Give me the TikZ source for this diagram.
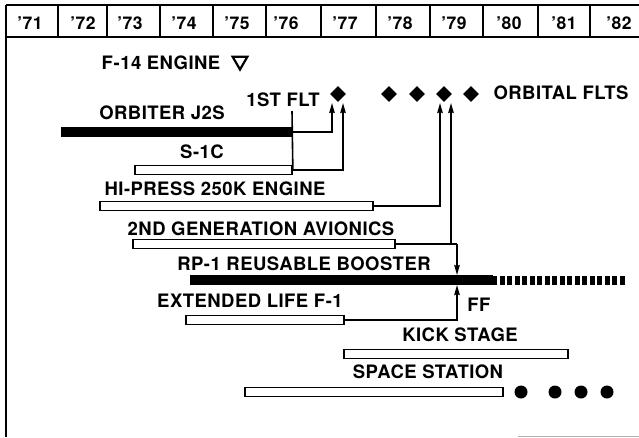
\documentclass[tikz,border=0pt]{standalone}
\usepackage{fontspec}
\setmainfont{TeX Gyre Heros}[LetterSpace=2.5]
\usetikzlibrary{arrows.meta,shapes.geometric}
\begin{document}
\begin{tikzpicture}[x=1pt,y=-1pt,
  lbl/.style={inner sep=0pt, font=\fontsize{18.5}{20}\selectfont\bfseries},
  yr/.style={inner sep=0pt, font=\fontsize{17.5}{18}\selectfont\bfseries},
  frame/.style={line width=1.8pt},
  openbar/.style={draw, fill=white, line width=1.7pt, minimum height=9pt, inner sep=0pt},
  solidbar/.style={draw, fill=black, line width=0.5pt, minimum height=9pt, inner sep=0pt},
  conn/.style={line width=1.6pt},
  arr/.style={line width=1.6pt, -{Stealth[length=10pt,width=5.5pt,inset=1pt]}},
  milestone/.style={diamond, fill=black, minimum width=16pt, minimum height=16pt, inner sep=0pt},
  dot/.style={circle, fill=black, minimum size=13pt, inner sep=0pt}]
\useasboundingbox (0,0) rectangle (639,437);
% header frame
\draw[frame] (6,5) -- (639,5);
\draw[frame] (6,37) -- (639,37);
\draw[frame] (6,5) -- (6,437);
\foreach \x in {58,107,160,213,266,321,376,430,483,538,590}
  \draw[frame] (\x,5) -- (\x,37);
\draw[gray!60, line width=1pt] (518,436) -- (639,436);
% year labels
\node[yr] (y71) at (30,23) {’71};
\node[yr] (y72) at (83,23) {’72};
\node[yr] (y73) at (130,23) {’73};
\node[yr] (y74) at (184,23) {’74};
\node[yr] (y75) at (237,23) {’75};
\node[yr] (y76) at (286,23) {’76};
\node[yr] (y77) at (345,23) {’77};
\node[yr] (y78) at (400,23) {’78};
\node[yr] (y79) at (454,23) {’79};
\node[yr] (y80) at (509,23) {’80};
\node[yr] (y81) at (564,23) {’81};
\node[yr] (y82) at (619,23) {’82};
% top labels and milestones
\node[lbl] (f14) at (161,63) {F-14 ENGINE};
\node[regular polygon, regular polygon sides=3, shape border rotate=180, draw, line width=2.2pt, minimum size=17pt, inner sep=0pt] (tri) at (240,61) {};
\node[lbl] (fltlbl) at (283,100) {1ST FLT};
\node[milestone] (d1) at (338,94) {};
\node[milestone] (d2) at (389,94) {};
\node[milestone] (d3) at (417,94) {};
\node[milestone] (d4) at (444,94) {};
\node[milestone] (d5) at (471,94) {};
\node[lbl] (orbflt) at (561,93) {ORBITAL FLTS};
% bars and labels
\node[lbl] (orblbl) at (162,113) {ORBITER J2S};
\node[solidbar, minimum width=231pt] (orb) at (176.5,132) {};
\node[lbl] (s1clbl) at (202,152) {S-1C};
\node[openbar, minimum width=157pt] (s1c) at (213.5,170) {};
\node[lbl] (hplbl) at (215,189) {HI-PRESS 250K ENGINE};
\node[openbar, minimum width=273pt] (hp) at (236.5,206) {};
\node[lbl] (avlbl) at (261,229) {2ND GENERATION AVIONICS};
\node[openbar, minimum width=262pt] (av) at (264,244) {};
\node[lbl] (rplbl) at (304,264) {RP-1 REUSABLE BOOSTER};
\node[solidbar, minimum width=302pt] (rp) at (341,280) {};
\coordinate (rpend) at (627,280);
\draw[line width=9pt, dash pattern=on 5pt off 2.5pt] (rp.east) -- (rpend);
\node[lbl] (extlbl) at (250,301) {EXTENDED LIFE F-1};
\node[openbar, minimum width=158pt] (ext) at (265,320) {};
\node[lbl] (fflbl) at (479,305) {FF};
\node[lbl] (kslbl) at (460,335) {KICK STAGE};
\node[openbar, minimum width=224pt] (ks) at (456,354) {};
\node[lbl] (sslbl) at (428,372) {SPACE STATION};
\node[openbar, minimum width=258pt] (ss) at (374,392) {};
\node[dot] (c1) at (521,392) {};
\node[dot] (c2) at (555,392) {};
\node[dot] (c3) at (581,392) {};
\node[dot] (c4) at (607,392) {};
% connectors
\coordinate (tick) at (292,111);
\coordinate (a1) at (332,103);
\coordinate (a2) at (343,103);
\coordinate (a3) at (440,103);
\coordinate (a4) at (451,103);
\coordinate (j1) at (451,244);
\coordinate (j2) at (457,244);
\coordinate (a5) at (457,275);
\coordinate (a6) at (457,285);
\draw[conn] (tick) -- (s1c.east);
\draw[arr] (orb.east) -| (a1);
\draw[arr] (s1c.east) -| (a2);
\draw[arr] (hp.east) -| (a3);
\draw[conn] (av.east) -- (j2);
\draw[arr] (j1) -- (a4);
\draw[arr] (j2) -- (a5);
\draw[arr] (ext.east) -| (a6);
\end{tikzpicture}
\end{document}
